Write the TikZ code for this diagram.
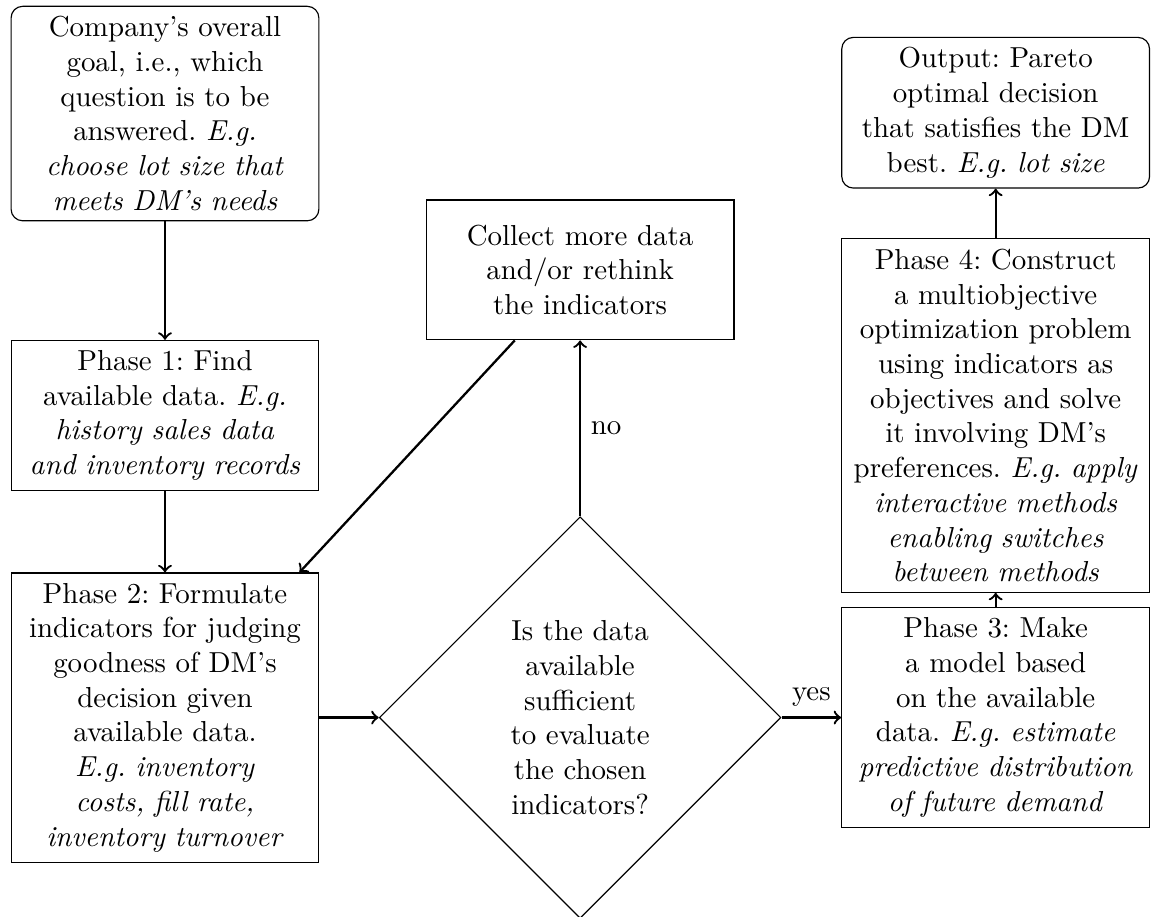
\documentclass[tikz,border=0pt]{standalone}
\usepackage{amsmath, amssymb}
\usetikzlibrary{shapes.geometric}

\begin{document}
\frenchspacing
\begin{tikzpicture}[
    block/.style={draw, text width=3.6cm, inner xsep=2pt, inner ysep=3.5pt, align=center},
    endblock/.style={block, rounded corners},
    decision/.style={draw, diamond, aspect=1, text width=1.75cm, align=center,
      minimum width=4.88cm, minimum height=4.88cm, inner sep=1pt},
    arrow/.style={->, thick}]
      \useasboundingbox (0,0) rectangle (14.0,-11.14);

      % 1. 左列：目標與前兩個階段
      \node[endblock] (goal) at (2.005,-1.38) {Company's overall\\ goal, i.e., which\\ question is to be\\ answered. \emph{E.g.}\\ \emph{choose lot size that}\\ \emph{meets DM's needs}};
      \node[block] (phase1) at (2.005,-5.05) {Phase 1: Find\\ available data. \emph{E.g.}\\ \emph{history sales data}\\ \emph{and inventory records}};
      \node[block] (phase2) at (2.005,-8.72) {Phase 2: Formulate\\ indicators for judging\\ goodness of DM's\\ decision given\\ available data.\\ \emph{E.g. inventory}\\ \emph{costs, fill rate,}\\ \emph{inventory turnover}};

      % 2. 中列：判斷與回頭收集資料
      \node[decision] (check) at (7.05,-8.72) {Is the data available sufficient to evaluate the chosen indicators?};
      \node[block, minimum height=1.7cm] (collect) at (7.05,-3.28) {Collect more data\\ and/or rethink\\ the indicators};

      % 3. 右列：模型、最佳化與輸出
      \node[block] (phase3) at (12.10,-8.72) {Phase 3: Make\\ a model based\\ on the available\\ data. \emph{E.g. estimate}\\ \emph{predictive distribution}\\ \emph{of future demand}};
      \node[block] (phase4) at (12.10,-5.05) {Phase 4: Construct\\ a multiobjective\\ optimization problem\\ using indicators as\\ objectives and solve\\ it involving DM's\\ preferences. \emph{E.g. apply}\\ \emph{interactive methods}\\ \emph{enabling switches}\\ \emph{between methods}};
      \node[endblock] (output) at (12.10,-1.37) {Output: Pareto\\ optimal decision\\ that satisfies the DM\\ best. \emph{E.g. lot size}};

      % 4. 連接箭頭
      \draw[arrow] (goal) -- (phase1);
      \draw[arrow] (phase1) -- (phase2);
      \draw[arrow] (phase2) -- (check);
      \draw[arrow] (check) -- node[right] {no} (collect);
      \draw[arrow] (collect) -- (phase2);
      \draw[arrow] (check) -- node[above] {yes} (phase3);
      \draw[arrow] (phase3) -- (phase4);
      \draw[arrow] (phase4) -- (output);
    \end{tikzpicture}
\end{document}
